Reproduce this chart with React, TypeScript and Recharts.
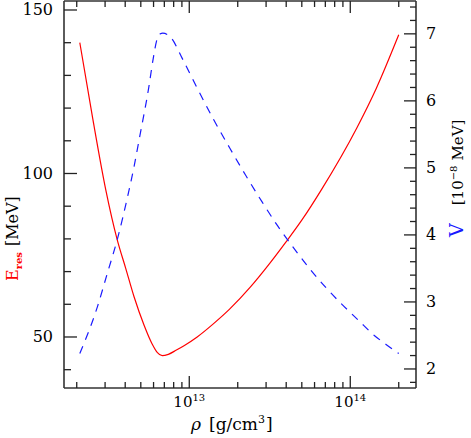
import { Line, LineChart, XAxis, YAxis } from "recharts";

// density grid and values
const eRho = [
  2.09e12, 2.51e12, 3.03e12, 3.57e12, 4.03e12, 4.54e12, 5.24e12, 5.89e12,
  6.32e12, 6.79e12, 7.41e12, 8.32e12, 9.33e12, 1.12e13, 1.41e13, 1.78e13,
  2.4e13, 3.16e13, 3.98e13, 5.01e13, 6.61e13, 1.1e14, 1.45e14, 2.0e14,
];
const eRes = [
  140, 117, 95, 79.7, 71, 62.3, 53.6, 47.8, 45.3, 44.3, 44.7, 46, 47.4, 50,
  54, 58.5, 65.3, 72.5, 79, 85.8, 95, 114, 126, 142.4,
];

const vRho = [
  2.09e12, 2.69e12, 3.1e12, 3.57e12, 4.12e12, 4.54e12, 4.88e12, 5.62e12,
  5.96e12, 6.31e12, 6.61e12, 6.84e12, 7.66e12, 9.06e12, 1.12e13, 1.41e13,
  1.78e13, 2.24e13, 2.82e13, 3.55e13, 4.47e13, 5.62e13, 7.08e13, 8.91e13,
  1.12e14, 1.41e14, 1.66e14, 2.0e14,
];
const vVal = [
  2.23, 2.93, 3.43, 3.93, 4.55, 5.02, 5.42, 6.22, 6.62, 6.92, 7.0, 7.01, 6.95,
  6.63, 6.19, 5.73, 5.3, 4.89, 4.5, 4.13, 3.8, 3.49, 3.21, 2.96, 2.73, 2.5,
  2.37, 2.23,
];

const xTicks = [
  2e12, 3e12, 4e12, 5e12, 6e12, 7e12, 8e12, 9e12, 1e13, 2e13, 3e13, 4e13, 5e13,
  6e13, 7e13, 8e13, 9e13, 1e14, 2e14,
];
const xMajor: Record<number, string> = { 1e13: "13", 1e14: "14" };
const eTicks = [40, 50, 60, 70, 80, 90, 100, 110, 120, 130, 140, 150];
const eMajor = [50, 100, 150];
const vTicks = [
  1.8, 2, 2.2, 2.4, 2.6, 2.8, 3, 3.2, 3.4, 3.6, 3.8, 4, 4.2, 4.4, 4.6, 4.8, 5,
  5.2, 5.4, 5.6, 5.8, 6, 6.2, 6.4, 6.6, 6.8, 7, 7.2, 7.4,
];

const eData = eRho.map((rho, i) => ({ rho, e: eRes[i] }));
const vData = vRho.map((rho, i) => ({ rho, v: vVal[i] }));

const font = "DejaVu Serif";
const ink = "#222";

const BottomTick = ({ x, y, payload }: any) => {
  const exp = xMajor[payload.value];
  return (
    <g>
      <line x1={x} x2={x} y1={y} y2={y - (exp ? 12 : 6)} stroke={ink} strokeWidth={1.3} />
      {exp && (
        <text x={x} y={y + 19} textAnchor="middle" fontFamily={font} fontSize={15} fill="#000">
          10<tspan dy={-6} fontSize={10}>{exp}</tspan>
        </text>
      )}
    </g>
  );
};

const TopTick = ({ x, y, payload }: any) => {
  const major = !!xMajor[payload.value];
  return <line x1={x} x2={x} y1={y} y2={y + (major ? 12 : 6)} stroke={ink} strokeWidth={1.3} />;
};

const LeftTick = ({ x, y, payload }: any) => {
  const major = eMajor.includes(payload.value);
  return (
    <g>
      <line x1={x} x2={x + (major ? 13 : 7)} y1={y} y2={y} stroke={ink} strokeWidth={1.3} />
      {major && (
        <text x={x - 11} y={y + 5.5} textAnchor="end" fontFamily={font} fontSize={16} fill="#000">
          {payload.value}
        </text>
      )}
    </g>
  );
};

const RightTick = ({ x, y, payload }: any) => {
  const major = Number.isInteger(Math.round(payload.value * 10) / 10);
  return (
    <g>
      <line x1={x} x2={x - (major ? 12 : 6)} y1={y} y2={y} stroke={ink} strokeWidth={1.3} />
      {major && (
        <text x={x + 10} y={y + 5.5} textAnchor="start" fontFamily={font} fontSize={16} fill="#000">
          {payload.value}
        </text>
      )}
    </g>
  );
};

export default function App() {
  const axisLine = { stroke: "#333", strokeWidth: 1.6 };
  return (
    <div style={{ position: "relative", width: 471, height: 438 }}>
      <style>{`body{margin:0}`}</style>
      <LineChart width={471} height={438} margin={{ top: 0, right: 54, bottom: 49, left: 63 }}>
        <XAxis
          xAxisId="b"
          dataKey="rho"
          type="number"
          scale="log"
          domain={[1.667e12, 2.56e14]}
          allowDataOverflow
          ticks={xTicks}
          interval={0}
          height={1}
          tickSize={0}
          tickMargin={0}
          axisLine={axisLine}
          tick={BottomTick}
        />
        <XAxis
          xAxisId="t"
          orientation="top"
          dataKey="rho"
          type="number"
          scale="log"
          domain={[1.667e12, 2.56e14]}
          allowDataOverflow
          ticks={xTicks}
          interval={0}
          height={1}
          tickSize={0}
          tickMargin={0}
          axisLine={axisLine}
          tick={TopTick}
        />
        <YAxis
          yAxisId="e"
          type="number"
          domain={[34.4, 152.75]}
          allowDataOverflow
          ticks={eTicks}
          interval={0}
          width={1}
          tickSize={0}
          tickMargin={0}
          axisLine={axisLine}
          tick={LeftTick}
        />
        <YAxis
          yAxisId="v"
          orientation="right"
          type="number"
          domain={[1.716, 7.49]}
          allowDataOverflow
          ticks={vTicks}
          interval={0}
          width={1}
          tickSize={0}
          tickMargin={0}
          axisLine={axisLine}
          tick={RightTick}
        />
        <Line
          xAxisId="b"
          yAxisId="e"
          data={eData}
          dataKey="e"
          type="monotone"
          stroke="#ff0000"
          strokeWidth={1.2}
          dot={false}
          isAnimationActive={false}
        />
        <Line
          xAxisId="b"
          yAxisId="v"
          data={vData}
          dataKey="v"
          type="monotone"
          stroke="#1a1aff"
          strokeWidth={1.2}
          strokeDasharray="8 7"
          dot={false}
          isAnimationActive={false}
        />
      </LineChart>
      <svg width={471} height={438} style={{ position: "absolute", left: 0, top: 0, pointerEvents: "none" }}>
        <text transform="translate(18,281) rotate(-90)" fontFamily={font} fontSize={16} fill="#000">
          <tspan fill="#ff0000">E</tspan>
          <tspan fill="#ff0000" fontSize={10} fontWeight="bold" dy={4}>res</tspan>
          <tspan dy={-4} dx={6}>[MeV]</tspan>
        </text>
        <text transform="translate(463,237) rotate(-90)" fontFamily={font} fontSize={15} fill="#000">
          <tspan fill="#1a1aff" fontSize={19}>V</tspan>
          <tspan dx={18}>[10</tspan>
          <tspan dy={-6} fontSize={10}>−8</tspan>
          <tspan dy={6} dx={5}>MeV]</tspan>
        </text>
        <text x={191} y={430} fontFamily={font} fontSize={17} fill="#000">
          <tspan fontStyle="italic">ρ</tspan>
          <tspan dx={8}>[g/cm</tspan>
          <tspan dy={-7} fontSize={11}>3</tspan>
          <tspan dy={7} dx={1}>]</tspan>
        </text>
      </svg>
    </div>
  );
}
